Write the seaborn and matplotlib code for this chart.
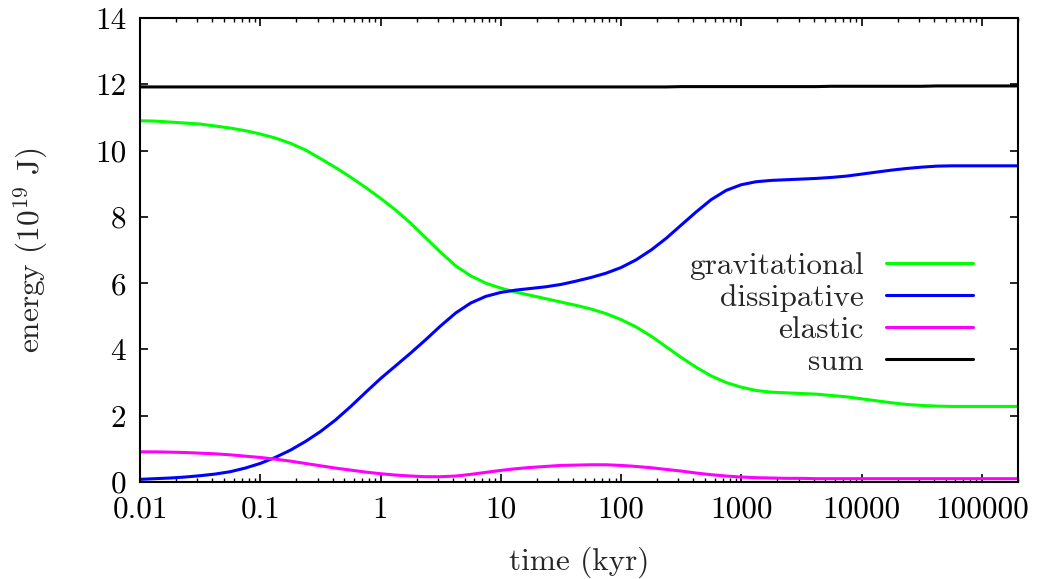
import numpy as np
import pandas as pd
import matplotlib
matplotlib.use("Agg")
import matplotlib.pyplot as plt
import seaborn as sns
from matplotlib.ticker import FixedLocator, FixedFormatter, LogLocator, NullFormatter
from matplotlib.lines import Line2D

time = [0.01, 0.0133, 0.0178, 0.0237, 0.0316, 0.0422, 0.0562, 0.075,
        0.1, 0.133, 0.178, 0.237, 0.316, 0.422, 0.562, 0.75,
        1, 1.33, 1.78, 2.37, 3.16, 4.22, 5.62, 7.5,
        10, 13.3, 17.8, 23.7, 31.6, 42.2, 56.2, 75,
        100, 133, 178, 237, 316, 422, 562, 750,
        1000, 1330, 1780, 2370, 3160, 4220, 5620, 7500,
        10000, 13300, 17800, 23700, 31600, 42200, 56200, 75000,
        100000, 133000, 178000, 200000]

gravitational = [10.90, 10.89, 10.86, 10.83, 10.80, 10.74, 10.68, 10.60,
                 10.50, 10.38, 10.22, 10.02, 9.76, 9.49, 9.20, 8.89,
                 8.56, 8.21, 7.81, 7.37, 6.93, 6.52, 6.22, 6.00,
                 5.85, 5.73, 5.63, 5.53, 5.43, 5.33, 5.22, 5.08,
                 4.90, 4.68, 4.40, 4.08, 3.76, 3.46, 3.20, 3.00,
                 2.86, 2.76, 2.71, 2.69, 2.67, 2.65, 2.61, 2.57,
                 2.51, 2.45, 2.39, 2.34, 2.31, 2.29, 2.28, 2.28,
                 2.28, 2.28, 2.28, 2.28]
dissipative = [0.08, 0.10, 0.12, 0.15, 0.19, 0.24, 0.31, 0.42,
               0.56, 0.74, 0.96, 1.22, 1.52, 1.87, 2.27, 2.70,
               3.12, 3.50, 3.89, 4.29, 4.71, 5.10, 5.40, 5.60,
               5.72, 5.79, 5.84, 5.89, 5.96, 6.06, 6.17, 6.30,
               6.47, 6.70, 7.00, 7.35, 7.75, 8.15, 8.52, 8.80,
               8.97, 9.06, 9.10, 9.12, 9.14, 9.16, 9.19, 9.23,
               9.29, 9.35, 9.41, 9.46, 9.50, 9.53, 9.54, 9.54,
               9.54, 9.54, 9.54, 9.54]
elastic = [0.91, 0.91, 0.90, 0.89, 0.87, 0.85, 0.82, 0.78,
           0.74, 0.69, 0.63, 0.56, 0.49, 0.42, 0.36, 0.30,
           0.25, 0.21, 0.18, 0.16, 0.16, 0.18, 0.23, 0.29,
           0.35, 0.40, 0.44, 0.47, 0.50, 0.51, 0.52, 0.52,
           0.50, 0.47, 0.43, 0.38, 0.33, 0.27, 0.22, 0.18,
           0.15, 0.13, 0.12, 0.11, 0.11, 0.10, 0.10, 0.10,
           0.10, 0.10, 0.10, 0.10, 0.10, 0.10, 0.10, 0.10,
           0.10, 0.10, 0.10, 0.10]
total = [11.92, 11.92, 11.92, 11.92, 11.92, 11.92, 11.92, 11.92,
         11.92, 11.92, 11.92, 11.92, 11.92, 11.92, 11.92, 11.92,
         11.92, 11.92, 11.92, 11.92, 11.92, 11.92, 11.92, 11.92,
         11.92, 11.92, 11.92, 11.92, 11.92, 11.92, 11.92, 11.92,
         11.92, 11.92, 11.92, 11.92, 11.93, 11.93, 11.93, 11.93,
         11.93, 11.93, 11.93, 11.93, 11.93, 11.93, 11.94, 11.94,
         11.94, 11.94, 11.94, 11.94, 11.94, 11.95, 11.95, 11.95,
         11.95, 11.95, 11.95, 11.95]

series_names = ["gravitational", "dissipative", "elastic", "sum"]
series_colors = ["#00ff00", "#0000ff", "#ff00ff", "#000000"]

xtick_vals = [0.01, 0.1, 1, 10, 100, 1000, 10000, 100000]
xtick_labels = ["0.01", "0.1", "1", "10", "100", "1000", "10000", "100000"]
ytick_vals = [0, 2, 4, 6, 8, 10, 12, 14]
ytick_labels = ["0", "2", "4", "6", "8", "10", "12", "14"]

sns.set_theme(style="white")
plt.rcParams["font.family"] = ["cmr10", "DejaVu Serif"]
plt.rcParams["mathtext.fontset"] = "cm"
plt.rcParams["axes.unicode_minus"] = False
plt.rcParams["axes.formatter.use_mathtext"] = True

df = pd.DataFrame({
    "time": time * 4,
    "energy": gravitational + dissipative + elastic + total,
    "series": sum([[n] * len(time) for n in series_names], []),
})

fig = plt.figure(figsize=(10.41, 5.79), dpi=100)
ax = fig.add_axes([140 / 1041, 1 - 482 / 579, (1018 - 140) / 1041, (482 - 18) / 579])

sns.lineplot(data=df, x="time", y="energy", hue="series", hue_order=series_names,
             palette=dict(zip(series_names, series_colors)), linewidth=2.2, ax=ax,
             legend=False, sort=False, estimator=None)

ax.set_xscale("log")
ax.set_xlim(0.01, 200000)
ax.set_ylim(0, 14)

ax.xaxis.set_major_locator(FixedLocator(xtick_vals))
ax.xaxis.set_major_formatter(FixedFormatter(xtick_labels))
ax.xaxis.set_minor_locator(LogLocator(base=10, subs=np.arange(2, 10), numticks=20))
ax.xaxis.set_minor_formatter(NullFormatter())
ax.yaxis.set_major_locator(FixedLocator(ytick_vals))
ax.yaxis.set_major_formatter(FixedFormatter(ytick_labels))

ax.tick_params(which="both", direction="in", top=True, right=True, bottom=True, left=True,
               labelsize=22.5, colors="black", pad=10)
ax.tick_params(which="major", length=6, width=1.2)
ax.tick_params(which="minor", length=3, width=1.0)
for s in ax.spines.values():
    s.set_color("black")
    s.set_linewidth(1.5)

ax.set_xlabel("time (kyr)", fontsize=22.5, labelpad=16)
ax.set_ylabel(r"energy (10$^{19}$ J)", fontsize=22.5, labelpad=32)

handles = [Line2D([], [], color=c, linewidth=2.2) for c in series_colors]
leg = fig.legend(handles, series_names, loc="center right", markerfirst=False, frameon=False,
                 fontsize=22.5, handlelength=2.8, handletextpad=0.7, labelspacing=0.13,
                 borderpad=0, borderaxespad=0,
                 bbox_to_anchor=(973 / 1041, 1 - 314 / 579), bbox_transform=fig.transFigure)
for t in leg.get_texts():
    t.set_ha("right")
leg._legend_box.align = "right"

fig.savefig("out.png", dpi=100)
